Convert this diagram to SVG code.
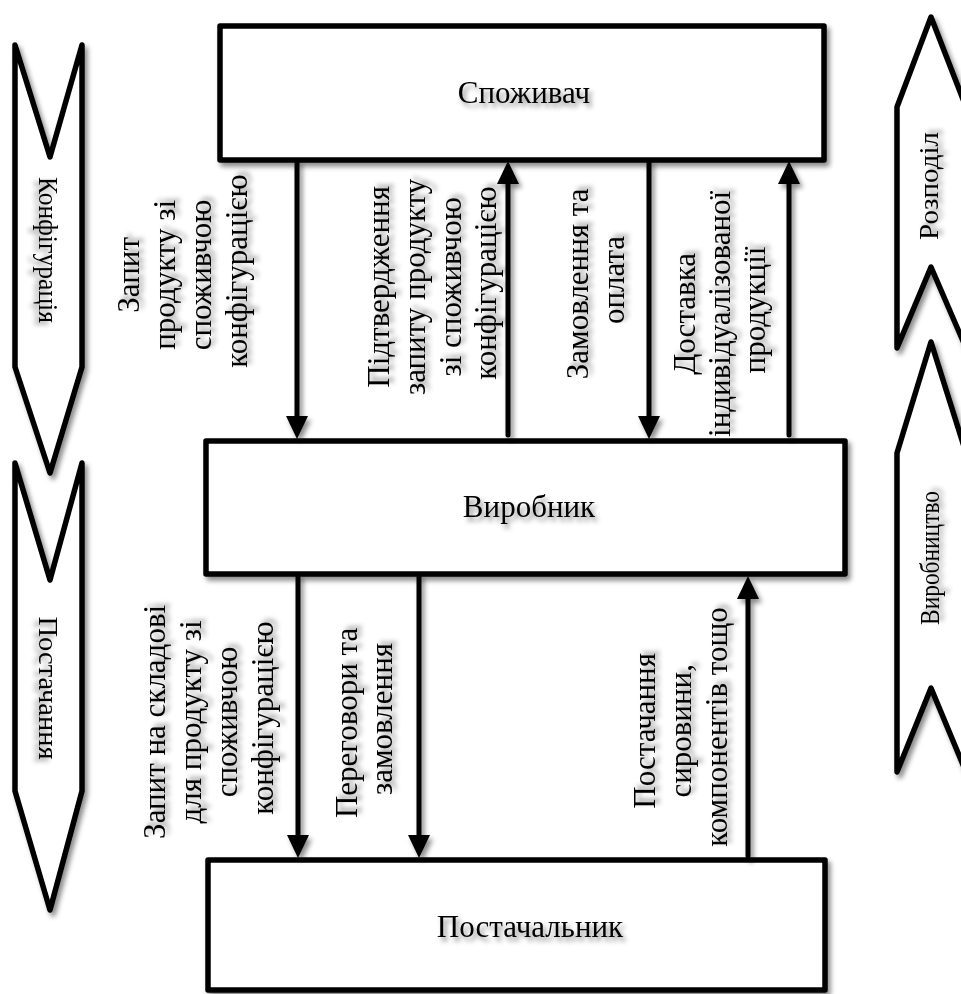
<svg xmlns="http://www.w3.org/2000/svg" width="961" height="994" viewBox="0 0 961 994">
  <defs>
    <!-- soft drop shadow for shapes and text -->
    <filter id="shadow" x="-25%" y="-25%" width="150%" height="150%">
      <feDropShadow dx="3" dy="4" stdDeviation="2.5" flood-color="#000" flood-opacity="0.45"/>
    </filter>
    <!-- same shadow in page units, for zero-width vertical lines -->
    <filter id="shadow-line" filterUnits="userSpaceOnUse" x="0" y="0" width="961" height="994">
      <feDropShadow dx="3" dy="4" stdDeviation="2.5" flood-color="#000" flood-opacity="0.45"/>
    </filter>
    <marker id="head" markerUnits="userSpaceOnUse" viewBox="0 0 24 22" markerWidth="24" markerHeight="22" refX="8" refY="11" orient="auto">
      <path d="M0,0 L23,11 L0,22 z" fill="#000"/>
    </marker>
    <style>
      .box { fill: #fff; stroke: #000; stroke-width: 5.5; stroke-linejoin: round; filter: url(#shadow); }
      .band { fill: #fff; stroke: #000; stroke-width: 5.5; stroke-linejoin: round; filter: url(#shadow); }
      .flow { fill: none; stroke: #000; stroke-width: 5; stroke-linecap: round; marker-end: url(#head); filter: url(#shadow-line); }
      .t { font-family: "Liberation Serif", "Times New Roman", Times, serif; font-size: 31px; fill: #000; text-anchor: middle; filter: url(#shadow); }
      .bt { font-size: 27.5px; }
    </style>
  </defs>

  <!-- stage bands on the left: configuration, supply -->
  <g id="band-configuration">
    <polygon class="band" points="15,45 50,157 82,45 82,367 50,473 15,367"/>
    <text class="t bt" transform="translate(39,250) rotate(90)" textLength="146" lengthAdjust="spacingAndGlyphs">Конфігурація</text>
  </g>
  <g id="band-supply">
    <polygon class="band" points="15,463 50,580 82,463 82,791 50,910 15,791"/>
    <text class="t bt" transform="translate(39,688) rotate(90)" textLength="143" lengthAdjust="spacingAndGlyphs">Постачання</text>
  </g>

  <!-- stage bands on the right: distribution, production -->
  <g id="band-distribution">
    <polygon class="band" points="931,17 966,107 966,348 931,267 897,348 897,107"/>
    <text class="t bt" transform="translate(938,186) rotate(-90)" textLength="108" lengthAdjust="spacingAndGlyphs">Розподіл</text>
  </g>
  <g id="band-production">
    <polygon class="band" points="931,342 966,453 966,772 931,688 897,772 897,453"/>
    <text class="t bt" transform="translate(939,558) rotate(-90)" textLength="134" lengthAdjust="spacingAndGlyphs">Виробництво</text>
  </g>

  <!-- participants -->
  <g id="consumer">
    <rect class="box" x="220" y="26" width="604" height="134"/>
    <text class="t" x="524" y="103">Споживач</text>
  </g>
  <g id="manufacturer">
    <rect class="box" x="206" y="441" width="639" height="133"/>
    <text class="t" x="529" y="517">Виробник</text>
  </g>
  <g id="supplier">
    <rect class="box" x="208" y="860" width="617" height="130"/>
    <text class="t" x="530" y="937">Постачальник</text>
  </g>

  <!-- flows between participants -->
  <g id="connectors">
    <line class="flow" x1="297" y1="162" x2="297" y2="424"/>
    <line class="flow" x1="508" y1="435" x2="508" y2="176"/>
    <line class="flow" x1="649" y1="162" x2="649" y2="424"/>
    <line class="flow" x1="789" y1="435" x2="789" y2="176"/>
    <line class="flow" x1="298" y1="576" x2="298" y2="843"/>
    <line class="flow" x1="419" y1="576" x2="419" y2="843"/>
    <line class="flow" x1="748" y1="856" x2="748" y2="591"/>
  </g>

  <!-- flow labels -->
  <g id="label-request">
    <text class="t" transform="translate(139,271) rotate(-90)">
      <tspan x="0" y="0">Запит</tspan>
      <tspan x="0" y="36">продукту зі</tspan>
      <tspan x="0" y="72">споживчою</tspan>
      <tspan x="0" y="108">конфігурацією</tspan>
    </text>
  </g>
  <g id="label-confirmation">
    <text class="t" transform="translate(389,283) rotate(-90)">
      <tspan x="0" y="0">Підтвердження</tspan>
      <tspan x="0" y="36">запиту продукту</tspan>
      <tspan x="0" y="72">зі споживчою</tspan>
      <tspan x="0" y="107">конфігурацією</tspan>
    </text>
  </g>
  <g id="label-order-payment">
    <text class="t" transform="translate(588,280) rotate(-90)">
      <tspan x="0" y="0">Замовлення та</tspan>
      <tspan x="0" y="36">оплата</tspan>
    </text>
  </g>
  <g id="label-delivery">
    <text class="t" transform="translate(695,310) rotate(-90)">
      <tspan x="0" y="0">Доставка</tspan>
      <tspan x="0" y="35">індивідуалізованої</tspan>
      <tspan x="0" y="70">продукції</tspan>
    </text>
  </g>
  <g id="label-components-request">
    <text class="t" transform="translate(165,718) rotate(-90)">
      <tspan x="0" y="0">Запит на складові</tspan>
      <tspan x="0" y="36">для продукту зі</tspan>
      <tspan x="0" y="72">споживчою</tspan>
      <tspan x="0" y="108">конфігурацією</tspan>
    </text>
  </g>
  <g id="label-negotiation">
    <text class="t" transform="translate(357,719) rotate(-90)">
      <tspan x="0" y="0">Переговори та</tspan>
      <tspan x="0" y="35">замовлення</tspan>
    </text>
  </g>
  <g id="label-materials">
    <text class="t" transform="translate(655,727) rotate(-90)">
      <tspan x="0" y="0">Постачання</tspan>
      <tspan x="0" y="36">сировини,</tspan>
      <tspan x="0" y="72">компонентів тощо</tspan>
    </text>
  </g>
</svg>
